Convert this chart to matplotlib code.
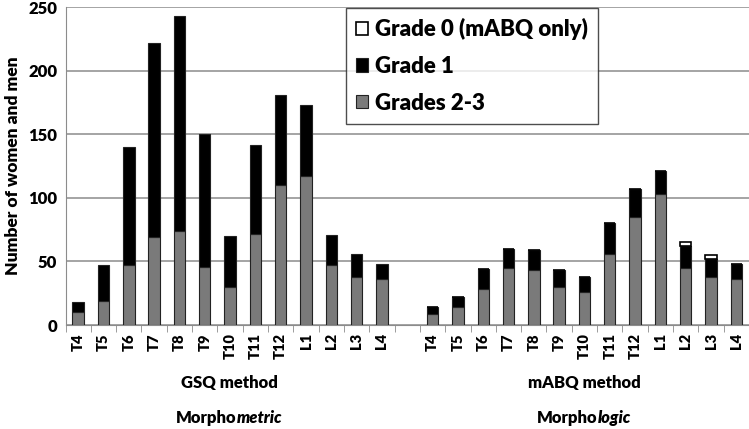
import matplotlib.pyplot as plt
import numpy as np

plt.rcParams['font.family'] = ['Lato', 'DejaVu Sans']
plt.rcParams['font.weight'] = 'heavy'
plt.rcParams['axes.labelweight'] = 'heavy'

levels = ["T4", "T5", "T6", "T7", "T8", "T9", "T10", "T11", "T12", "L1", "L2", "L3", "L4"]

# GSQ method (morphometric)
gsq_g23 = [10, 19, 47, 69, 74, 46, 30, 72, 110, 117, 47, 38, 36]
gsq_total = [18, 47, 140, 222, 243, 150, 70, 142, 181, 173, 71, 56, 48]

# mABQ method (morphologic)
mabq_g23 = [9, 14, 28, 45, 43, 30, 26, 56, 85, 103, 45, 38, 36]
mabq_g1top = [14, 22, 44, 60, 59, 43, 38, 80, 107, 121, 62, 52, 48]
mabq_g0top = [14, 22, 44, 60, 59, 43, 38, 80, 107, 121, 65, 55, 48]

gsq_g1 = np.array(gsq_total) - np.array(gsq_g23)
mabq_g1 = np.array(mabq_g1top) - np.array(mabq_g23)
mabq_g0 = np.array(mabq_g0top) - np.array(mabq_g1top)

x_gsq = np.arange(13)
x_mabq = np.arange(13) + 14
width = 0.45
gray = '#7a7a7a'

fig = plt.figure(figsize=(7.49, 4.29), dpi=100)
ax = fig.add_axes([0.0875, 0.2424, 0.9125, 0.7406])

edge = {'edgecolor': '#222222', 'linewidth': 0.8}
ax.bar(x_gsq, gsq_g23, width, color=gray, label="Grades 2-3", zorder=3, **edge)
ax.bar(x_gsq, gsq_g1, width, bottom=gsq_g23, color='black', label="Grade 1", zorder=3, **edge)
ax.bar(x_mabq, mabq_g23, width, color=gray, zorder=3, **edge)
ax.bar(x_mabq, mabq_g1, width, bottom=mabq_g23, color='black', zorder=3, **edge)
ax.bar(x_mabq, mabq_g0, width, bottom=mabq_g1top, color='white', label="Grade 0 (mABQ only)",
       zorder=3, edgecolor='black', linewidth=1.2)

ax.set_xlim(-0.5, 26.5)
ax.set_ylim(0, 250)
ax.set_yticks([0, 50, 100, 150, 200, 250])
ax.yaxis.grid(True, color='#8c8c8c', linewidth=1.1, zorder=0)
ax.tick_params(axis='y', length=0, labelsize=12, pad=6)
for t in ax.get_yticklabels():
    t.set_fontweight('heavy')

ax.set_xticks(list(x_gsq) + list(x_mabq))
ax.set_xticklabels(levels + levels, rotation=90, fontsize=10.5, fontweight='heavy')
ax.tick_params(axis='x', which='major', length=0, pad=6)
ax.set_xticks(np.arange(-0.5, 27, 1), minor=True)
ax.tick_params(axis='x', which='minor', length=5, color='#8c8c8c')

for s in ['top', 'right']:
    ax.spines[s].set_visible(False)
ax.spines['left'].set_color('#8c8c8c')
ax.spines['bottom'].set_color('#8c8c8c')

ax.set_ylabel("Number of women and men", fontsize=12.5, labelpad=5, fontweight='heavy')

handles, labels = ax.get_legend_handles_labels()
order = [2, 1, 0]
leg = ax.legend([handles[i] for i in order], [labels[i] for i in order],
                loc='upper left', bbox_to_anchor=(0.409, 1.0), borderaxespad=0.05,
                prop={'size': 16, 'weight': 'heavy'},
                frameon=True, fancybox=False, handlelength=0.55, handleheight=0.55,
                handletextpad=0.3, labelspacing=0.7, borderpad=0.45)
leg.get_frame().set_edgecolor('#222222')
leg.get_frame().set_linewidth(1.0)

fig.text(229 / 749, 1 - 383 / 429, "GSQ method", ha='center', va='center', fontsize=12,
         fontweight='heavy')
fig.text(584 / 749, 1 - 383 / 429, "mABQ method", ha='center', va='center', fontsize=12,
         fontweight='heavy')

# mixed upright / italic labels
fig.canvas.draw()
renderer = fig.canvas.get_renderer()
for cx, a, b in [(229, "Morpho", "metric"), (584, "Morpho", "logic")]:
    t1 = fig.text(0, 1 - 418 / 429, a, ha='left', va='center', fontsize=12, fontweight='heavy')
    t2 = fig.text(0, 1 - 418 / 429, b, ha='left', va='center', fontsize=12, style='italic',
                  fontweight='heavy')
    w1 = t1.get_window_extent(renderer).width
    w2 = t2.get_window_extent(renderer).width
    x0 = cx - (w1 + w2) / 2
    t1.set_x(x0 / 749)
    t2.set_x((x0 + w1) / 749)

fig.savefig("out.png", dpi=100)
